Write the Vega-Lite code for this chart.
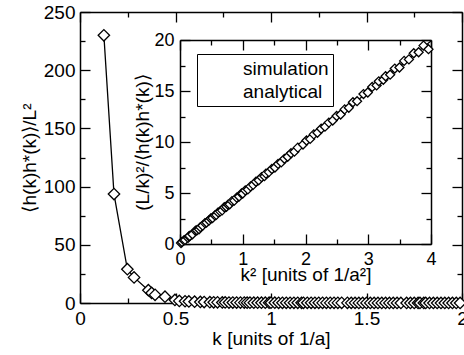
{
  "$schema": "https://vega.github.io/schema/vega-lite/v6.json",
  "width": 382,
  "height": 291,
  "autosize": {"type": "none"},
  "padding": {"left": 80, "top": 12, "right": 2, "bottom": 52},
  "background": "white",
  "config": {
    "font": "Liberation Sans",
    "view": {"stroke": null},
    "axis": {
      "domainColor": "black", "domainWidth": 1.5, "tickColor": "black", "tickWidth": 1.3,
      "labelColor": "black", "titleColor": "black", "labelFont": "Liberation Sans", "titleFont": "Liberation Sans",
      "titleFontWeight": "normal", "grid": false, "labelOverlap": false, "labelBound": false, "labelFlush": false
    }
  },
  "datasets": {
    "sim": [
      {"series": "simulation", "k": 0.125, "h": 230, "k2": 0.016, "r": 0.1},
      {"series": "simulation", "k": 0.178, "h": 93.6, "k2": 0.032, "r": 0.2},
      {"series": "simulation", "k": 0.248, "h": 29, "k2": 0.062, "r": 0.35},
      {"series": "simulation", "k": 0.283, "h": 22, "k2": 0.08, "r": 0.4},
      {"series": "simulation", "k": 0.358, "h": 11, "k2": 0.128, "r": 0.6},
      {"series": "simulation", "k": 0.375, "h": 8.6, "k2": 0.141, "r": 0.75},
      {"series": "simulation", "k": 0.393, "h": 7, "k2": 0.154, "r": 0.8},
      {"series": "simulation", "k": 0.445, "h": 5.4, "k2": 0.198, "r": 0.95},
      {"series": "simulation", "k": 0.497, "h": 2.6, "k2": 0.247, "r": 1.3},
      {"series": "simulation", "k": 0.52, "h": 1.8, "k2": 0.27, "r": 1.35},
      {"series": "simulation", "k": 0.55, "h": 1.5, "k2": 0.303, "r": 1.45},
      {"series": "simulation", "k": 0.57, "h": 1.3, "k2": 0.325, "r": 1.65},
      {"series": "simulation", "k": 0.6, "h": 1.1, "k2": 0.36, "r": 1.8},
      {"series": "simulation", "k": 0.63, "h": 0.9, "k2": 0.397, "r": 2.05},
      {"series": "simulation", "k": 0.65, "h": 0.8, "k2": 0.423, "r": 2.1},
      {"series": "simulation", "k": 0.68, "h": 0.7, "k2": 0.462, "r": 2.3},
      {"series": "simulation", "k": 0.7, "h": 0.6, "k2": 0.49, "r": 2.5},
      {"series": "simulation", "k": 0.72, "h": 0.55, "k2": 0.518, "r": 2.55},
      {"series": "simulation", "k": 0.745, "h": 0.5, "k2": 0.555, "r": 2.8},
      {"series": "simulation", "k": 0.76, "h": 0.45, "k2": 0.578, "r": 2.85},
      {"series": "simulation", "k": 0.78, "h": 0.42, "k2": 0.608, "r": 3.1},
      {"series": "simulation", "k": 0.8, "h": 0.4, "k2": 0.64, "r": 3.2},
      {"series": "simulation", "k": 0.82, "h": 0.37, "k2": 0.672, "r": 3.3},
      {"series": "simulation", "k": 0.84, "h": 0.35, "k2": 0.706, "r": 3.6},
      {"series": "simulation", "k": 0.86, "h": 0.33, "k2": 0.74, "r": 3.65},
      {"series": "simulation", "k": 0.875, "h": 0.31, "k2": 0.766, "r": 3.85},
      {"series": "simulation", "k": 0.89, "h": 0.3, "k2": 0.792, "r": 3.9},
      {"series": "simulation", "k": 0.91, "h": 0.28, "k2": 0.828, "r": 4.2},
      {"series": "simulation", "k": 0.93, "h": 0.27, "k2": 0.865, "r": 4.25},
      {"series": "simulation", "k": 0.95, "h": 0.26, "k2": 0.903, "r": 4.55},
      {"series": "simulation", "k": 0.97, "h": 0.25, "k2": 0.941, "r": 4.65},
      {"series": "simulation", "k": 0.99, "h": 0.24, "k2": 0.98, "r": 4.95},
      {"series": "simulation", "k": 1.0, "h": 0.23, "k2": 1.0, "r": 4.95},
      {"series": "simulation", "k": 1.02, "h": 0.22, "k2": 1.04, "r": 5.25},
      {"series": "simulation", "k": 1.04, "h": 0.21, "k2": 1.082, "r": 5.35},
      {"series": "simulation", "k": 1.06, "h": 0.2, "k2": 1.124, "r": 5.65},
      {"series": "simulation", "k": 1.08, "h": 0.2, "k2": 1.166, "r": 5.8},
      {"series": "simulation", "k": 1.1, "h": 0.19, "k2": 1.21, "r": 6.1},
      {"series": "simulation", "k": 1.12, "h": 0.18, "k2": 1.254, "r": 6.25},
      {"series": "simulation", "k": 1.14, "h": 0.18, "k2": 1.3, "r": 6.55},
      {"series": "simulation", "k": 1.16, "h": 0.17, "k2": 1.346, "r": 6.65},
      {"series": "simulation", "k": 1.17, "h": 0.17, "k2": 1.369, "r": 6.9},
      {"series": "simulation", "k": 1.19, "h": 0.16, "k2": 1.416, "r": 7.05},
      {"series": "simulation", "k": 1.21, "h": 0.16, "k2": 1.464, "r": 7.35},
      {"series": "simulation", "k": 1.23, "h": 0.15, "k2": 1.513, "r": 7.5},
      {"series": "simulation", "k": 1.25, "h": 0.15, "k2": 1.563, "r": 7.85},
      {"series": "simulation", "k": 1.27, "h": 0.14, "k2": 1.613, "r": 8.0},
      {"series": "simulation", "k": 1.29, "h": 0.14, "k2": 1.664, "r": 8.35},
      {"series": "simulation", "k": 1.31, "h": 0.13, "k2": 1.716, "r": 8.55},
      {"series": "simulation", "k": 1.33, "h": 0.13, "k2": 1.769, "r": 8.9},
      {"series": "simulation", "k": 1.35, "h": 0.12, "k2": 1.823, "r": 9.05},
      {"series": "simulation", "k": 1.37, "h": 0.12, "k2": 1.877, "r": 9.45},
      {"series": "simulation", "k": 1.4, "h": 0.12, "k2": 1.96, "r": 9.75},
      {"series": "simulation", "k": 1.42, "h": 0.11, "k2": 2.016, "r": 10.15},
      {"series": "simulation", "k": 1.44, "h": 0.11, "k2": 2.074, "r": 10.3},
      {"series": "simulation", "k": 1.46, "h": 0.1, "k2": 2.132, "r": 10.75},
      {"series": "simulation", "k": 1.48, "h": 0.1, "k2": 2.19, "r": 10.9},
      {"series": "simulation", "k": 1.5, "h": 0.1, "k2": 2.25, "r": 11.3},
      {"series": "simulation", "k": 1.52, "h": 0.1, "k2": 2.31, "r": 11.5},
      {"series": "simulation", "k": 1.54, "h": 0.09, "k2": 2.372, "r": 11.9},
      {"series": "simulation", "k": 1.56, "h": 0.09, "k2": 2.434, "r": 12.1},
      {"series": "simulation", "k": 1.58, "h": 0.09, "k2": 2.496, "r": 12.55},
      {"series": "simulation", "k": 1.6, "h": 0.08, "k2": 2.56, "r": 12.7},
      {"series": "simulation", "k": 1.62, "h": 0.08, "k2": 2.624, "r": 13.2},
      {"series": "simulation", "k": 1.64, "h": 0.08, "k2": 2.69, "r": 13.35},
      {"series": "simulation", "k": 1.66, "h": 0.08, "k2": 2.756, "r": 13.9},
      {"series": "simulation", "k": 1.68, "h": 0.07, "k2": 2.822, "r": 14.0},
      {"series": "simulation", "k": 1.71, "h": 0.07, "k2": 2.924, "r": 14.7},
      {"series": "simulation", "k": 1.73, "h": 0.07, "k2": 2.993, "r": 14.85},
      {"series": "simulation", "k": 1.75, "h": 0.07, "k2": 3.063, "r": 15.4},
      {"series": "simulation", "k": 1.77, "h": 0.06, "k2": 3.133, "r": 15.55},
      {"series": "simulation", "k": 1.78, "h": 0.06, "k2": 3.168, "r": 15.95},
      {"series": "simulation", "k": 1.8, "h": 0.06, "k2": 3.24, "r": 16.1},
      {"series": "simulation", "k": 1.81, "h": 0.06, "k2": 3.276, "r": 16.45},
      {"series": "simulation", "k": 1.83, "h": 0.06, "k2": 3.349, "r": 16.6},
      {"series": "simulation", "k": 1.85, "h": 0.05, "k2": 3.423, "r": 17.2},
      {"series": "simulation", "k": 1.87, "h": 0.05, "k2": 3.497, "r": 17.3},
      {"series": "simulation", "k": 1.89, "h": 0.05, "k2": 3.572, "r": 17.95},
      {"series": "simulation", "k": 1.91, "h": 0.05, "k2": 3.648, "r": 18.1},
      {"series": "simulation", "k": 1.93, "h": 0.05, "k2": 3.725, "r": 18.7},
      {"series": "simulation", "k": 1.95, "h": 0.05, "k2": 3.803, "r": 18.8},
      {"series": "simulation", "k": 1.97, "h": 0.05, "k2": 3.881, "r": 19.45},
      {"series": "simulation", "k": 1.99, "h": 0.04, "k2": 3.96, "r": 19.1}
    ],
    "ana": [
      {"k2": 0, "r": 0},
      {"k2": 4, "r": 19.9}
    ]
  },
  "layer": [
    {
      "data": {"name": "sim"},
      "mark": {"type": "line", "color": "black", "strokeWidth": 1.3},
      "encoding": {
        "x": {"field": "k", "type": "quantitative", "scale": {"domain": [0, 2], "nice": false},
          "axis": {"orient": "bottom", "values": [0, 0.25, 0.5, 0.75, 1, 1.25, 1.5, 1.75, 2],
            "labelExpr": "datum.value % 0.5 === 0 ? '' + datum.value : ''",
            "tickSize": {"condition": {"test": "datum.value % 0.5 === 0", "value": -10}, "value": -5},
            "labelFontSize": 19, "labelPadding": 16, "title": "k  [units of 1/a]", "titleFontSize": 19, "titlePadding": -4}},
        "y": {"field": "h", "type": "quantitative", "scale": {"domain": [0, 250], "nice": false},
          "axis": {"orient": "left", "values": [0, 25, 50, 75, 100, 125, 150, 175, 200, 225, 250],
            "labelExpr": "datum.value % 50 === 0 ? '' + datum.value : ''",
            "tickSize": {"condition": {"test": "datum.value % 50 === 0", "value": -10}, "value": -5},
            "labelFontSize": 19, "labelPadding": 15, "title": "⟨h(k)h*(k)⟩/L²", "titleFontSize": 19, "titlePadding": 4}}
      }
    },
    {
      "data": {"name": "sim"},
      "mark": {"type": "point", "shape": "diamond", "filled": false, "fill": "white", "stroke": "black", "strokeWidth": 1.3, "size": 130, "opacity": 1},
      "encoding": {
        "x": {"field": "k", "type": "quantitative", "scale": {"domain": [0, 2], "nice": false},
          "axis": {"orient": "top", "values": [0, 0.25, 0.5, 0.75, 1, 1.25, 1.5, 1.75, 2], "labels": false, "title": null,
            "tickSize": {"condition": {"test": "datum.value % 0.5 === 0", "value": -10}, "value": -5}}},
        "y": {"field": "h", "type": "quantitative", "scale": {"domain": [0, 250], "nice": false},
          "axis": {"orient": "right", "values": [0, 25, 50, 75, 100, 125, 150, 175, 200, 225, 250], "labels": false, "title": null,
            "tickSize": {"condition": {"test": "datum.value % 50 === 0", "value": -10}, "value": -5}}}
      }
    },
    {
      "data": {"name": "ana"},
      "mark": {"type": "line", "color": "black", "strokeWidth": 1.3},
      "encoding": {
        "x": {"field": "k2", "type": "quantitative", "scale": {"domain": [0, 4], "range": [100, 351], "nice": false},
          "axis": {"orient": "bottom", "offset": -59, "values": [0, 0.5, 1, 1.5, 2, 2.5, 3, 3.5, 4],
            "labelExpr": "datum.value % 1 === 0 ? '' + datum.value : ''",
            "tickSize": {"condition": {"test": "datum.value % 1 === 0", "value": -10}, "value": -5},
            "labelFontSize": 18, "labelPadding": 16, "title": "k² [units of 1/a²]", "titleFontSize": 19, "titlePadding": -8}},
        "y": {"field": "r", "type": "quantitative", "scale": {"domain": [0, 20], "range": [232, 28], "nice": false},
          "axis": {"orient": "left", "offset": -100, "values": [0, 2.5, 5, 7.5, 10, 12.5, 15, 17.5, 20],
            "labelExpr": "datum.value % 5 === 0 ? '' + datum.value : ''",
            "tickSize": {"condition": {"test": "datum.value % 5 === 0", "value": -10}, "value": -5},
            "labelFontSize": 18, "labelPadding": 16, "title": "(L/k)²/⟨h(k)h*(k)⟩", "titleFontSize": 19, "titlePadding": 1}}
      }
    },
    {
      "data": {"name": "sim"},
      "mark": {"type": "point", "filled": false, "fill": "white", "stroke": "black", "strokeWidth": 1.3, "size": 400, "opacity": 1},
      "encoding": {
        "x": {"field": "k2", "type": "quantitative", "scale": {"domain": [0, 4], "range": [100, 351], "nice": false},
          "axis": {"orient": "top", "offset": -28, "values": [0, 0.5, 1, 1.5, 2, 2.5, 3, 3.5, 4], "labels": false, "title": null,
            "tickSize": {"condition": {"test": "datum.value % 1 === 0", "value": -10}, "value": -5}}},
        "y": {"field": "r", "type": "quantitative", "scale": {"domain": [0, 20], "range": [232, 28], "nice": false},
          "axis": {"orient": "right", "offset": -31, "values": [0, 2.5, 5, 7.5, 10, 12.5, 15, 17.5, 20], "labels": false, "title": null,
            "tickSize": {"condition": {"test": "datum.value % 5 === 0", "value": -10}, "value": -5}}},
        "shape": {"field": "series", "type": "nominal",
          "scale": {"domain": ["simulation", "analytical"], "range": ["M-0.45,0L0,-0.45L0.45,0L0,0.45Z", "M-1.35,0L1.35,0"]},
          "legend": {"orient": "none", "legendX": 117, "legendY": 42, "title": null, "strokeColor": "black",
            "padding": 4, "labelFontSize": 19, "labelColor": "black", "labelOffset": 16, "rowPadding": 2, "symbolOffset": 4,
            "symbolSize": 400, "symbolStrokeColor": "black", "symbolStrokeWidth": 1.5, "symbolOpacity": 1}}
      }
    }
  ],
  "resolve": {"scale": {"x": "independent", "y": "independent"}, "axis": {"x": "independent", "y": "independent"}}
}
